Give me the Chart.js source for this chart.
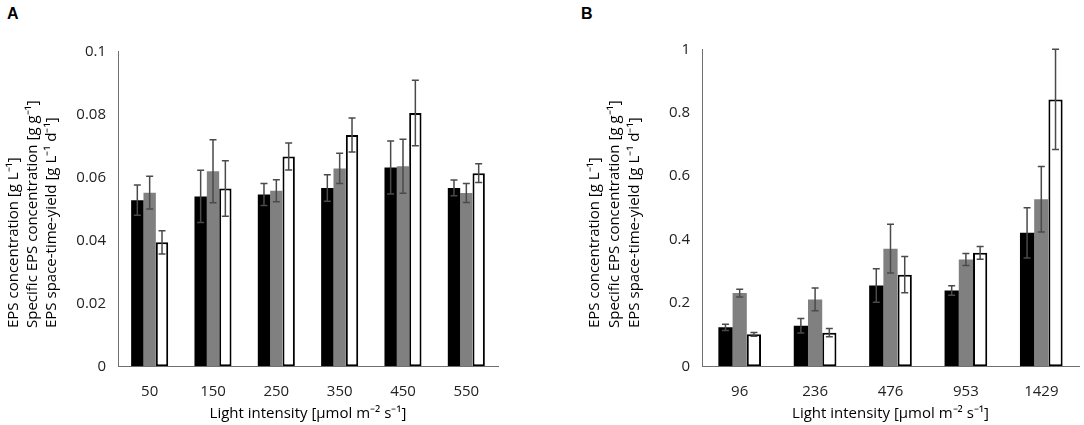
<!DOCTYPE html>
<html>
<head>
<meta charset="utf-8">
<script src="https://cdn.jsdelivr.net/npm/chart.js@4.4.1/dist/chart.umd.min.js"></script>
<style>
  body { margin: 0; background: #fff; width: 1084px; height: 425px; overflow: hidden; position: relative; }
  canvas { position: absolute; top: 0; }
  #chartA { left: 0; }
  #chartB { left: 540px; }
  .tag { position: absolute; top: 5px; font: bold 16px "Liberation Sans", Arial, sans-serif; color: #000; }
</style>
</head>
<body>
<div class="tag" style="left:7px">A</div>
<div class="tag" style="left:581px">B</div>
<canvas id="chartA" width="540" height="425"></canvas>
<canvas id="chartB" width="544" height="425"></canvas>
<script>
// panel A
var catsA = ['50', '150', '250', '350', '450', '550'];
var concA = [0.0528, 0.0540, 0.0546, 0.0567, 0.0632, 0.0567];
var concErrA = [0.0048, 0.0083, 0.0035, 0.0042, 0.0084, 0.0025];
var specA = [0.0552, 0.0620, 0.0558, 0.0629, 0.0636, 0.0551];
var specErrA = [0.0052, 0.0100, 0.0035, 0.0048, 0.0086, 0.0030];
var styA = [0.0394, 0.0565, 0.0667, 0.0735, 0.0805, 0.0614];
var styErrA = [0.0037, 0.0088, 0.0043, 0.0054, 0.0104, 0.0030];
var yTicksA = [0, 0.02, 0.04, 0.06, 0.08, 0.1];
var yLabelsA = ['0', '0.02', '0.04', '0.06', '0.08', '0.1'];

// panel B
var catsB = ['96', '236', '476', '953', '1429'];
var concB = [0.123, 0.128, 0.255, 0.239, 0.421];
var concErrB = [0.010, 0.023, 0.053, 0.015, 0.079];
var specB = [0.231, 0.211, 0.371, 0.337, 0.527];
var specErrB = [0.012, 0.036, 0.077, 0.019, 0.103];
var styB = [0.101, 0.106, 0.289, 0.358, 0.842];
var styErrB = [0.006, 0.013, 0.057, 0.020, 0.158];
var yTicksB = [0, 0.2, 0.4, 0.6, 0.8, 1];
var yLabelsB = ['0', '0.2', '0.4', '0.6', '0.8', '1'];

var yTitle = ['EPS concentration [g L\u207B\u00B9]',
              'Specific EPS concentration [g g\u207B\u00B9]',
              'EPS space-time-yield [g L\u207B\u00B9 d\u207B\u00B9]'];
var xTitle = 'Light intensity [\u00B5mol m\u207B\u00B2 s\u207B\u00B9]';

var FONT = '"Open Sans", sans-serif';

// error bars, drawn over the bars through the y scale
var errorBars = {
  id: 'errorBars',
  afterDatasetsDraw: function(chart, args, opts) {
    var ctx = chart.ctx, y = chart.scales.y;
    ctx.save();
    ctx.strokeStyle = '#4a4a4a';
    ctx.lineWidth = 1.5;
    chart.data.datasets.forEach(function(ds, i) {
      chart.getDatasetMeta(i).data.forEach(function(bar, j) {
        var v = ds.data[j], e = ds.errors[j];
        var top = y.getPixelForValue(v + e), bot = y.getPixelForValue(v - e);
        ctx.beginPath();
        ctx.moveTo(bar.x, top); ctx.lineTo(bar.x, bot);
        ctx.moveTo(bar.x - 3.5, top); ctx.lineTo(bar.x + 3.5, top);
        ctx.moveTo(bar.x - 3.5, bot); ctx.lineTo(bar.x + 3.5, bot);
        ctx.stroke();
      });
    });
    ctx.restore();
  }
};

// three-line rotated y title, left-aligned from the bottom
var yTitles = {
  id: 'yTitles',
  afterDraw: function(chart, args, opts) {
    var ctx = chart.ctx;
    ctx.save();
    ctx.fillStyle = '#000';
    ctx.font = '15px ' + FONT;
    ctx.textAlign = 'left';
    ctx.textBaseline = 'middle';
    opts.lines.forEach(function(t, i) {
      ctx.save();
      ctx.translate(opts.x[i], opts.bottom);
      ctx.rotate(-Math.PI / 2);
      ctx.fillText(t, 0, 0);
      ctx.restore();
    });
    ctx.restore();
  }
};

function makeChart(id, cats, conc, concErr, spec, specErr, sty, styErr, yTicks, yLabels, g) {
  return new Chart(document.getElementById(id), {
    type: 'bar',
    data: {
      labels: cats,
      datasets: [
        { data: conc, errors: concErr, backgroundColor: '#000000', borderWidth: 0 },
        { data: spec, errors: specErr, backgroundColor: '#808080', borderWidth: 0 },
        { data: sty, errors: styErr, backgroundColor: '#ffffff', borderColor: '#000000', borderWidth: 2, borderSkipped: false }
      ]
    },
    options: {
      responsive: false,
      animation: false,
      devicePixelRatio: 1,
      categoryPercentage: g.cat,
      barPercentage: 1,
      layout: { padding: { left: 0, right: g.right, top: g.top, bottom: 0 } },
      plugins: {
        legend: { display: false },
        tooltip: { enabled: false },
        yTitles: { lines: yTitle, x: g.titleX, bottom: 328 }
      },
      scales: {
        x: {
          grid: { display: false, drawTicks: false },
          border: { color: '#707070', width: 1 },
          ticks: { color: '#222', padding: 16, font: { size: 15, family: FONT } },
          title: { display: true, text: xTitle, color: '#000', font: { size: 15, family: FONT }, padding: { top: 0, bottom: 2 } },
          afterFit: function(s) { s.height = 425 - 366.3; }
        },
        y: {
          min: 0,
          max: yTicks[yTicks.length - 1],
          grid: { display: false, drawTicks: false },
          border: { color: '#707070', width: 1 },
          afterBuildTicks: function(s) { s.ticks = yTicks.map(function(v) { return { value: v }; }); },
          ticks: {
            color: '#222', padding: 12, font: { size: 15, family: FONT },
            callback: function(v, i) { return yLabels[i]; }
          },
          afterFit: function(s) { s.width = g.left; }
        }
      }
    },
    plugins: [errorBars, yTitles]
  });
}

makeChart('chartA', catsA, concA, concErrA, specA, specErrA, styA, styErrA, yTicksA, yLabelsA,
  { left: 118, right: 42, top: 51.7, cat: 0.585, titleX: [13.3, 32.5, 51.7] });
makeChart('chartB', catsB, concB, concErrB, specB, specErrB, styB, styErrB, yTicksB, yLabelsB,
  { left: 162, right: 5, top: 49.3, cat: 0.566, titleX: [55, 75, 95] });
</script>
</body>
</html>
